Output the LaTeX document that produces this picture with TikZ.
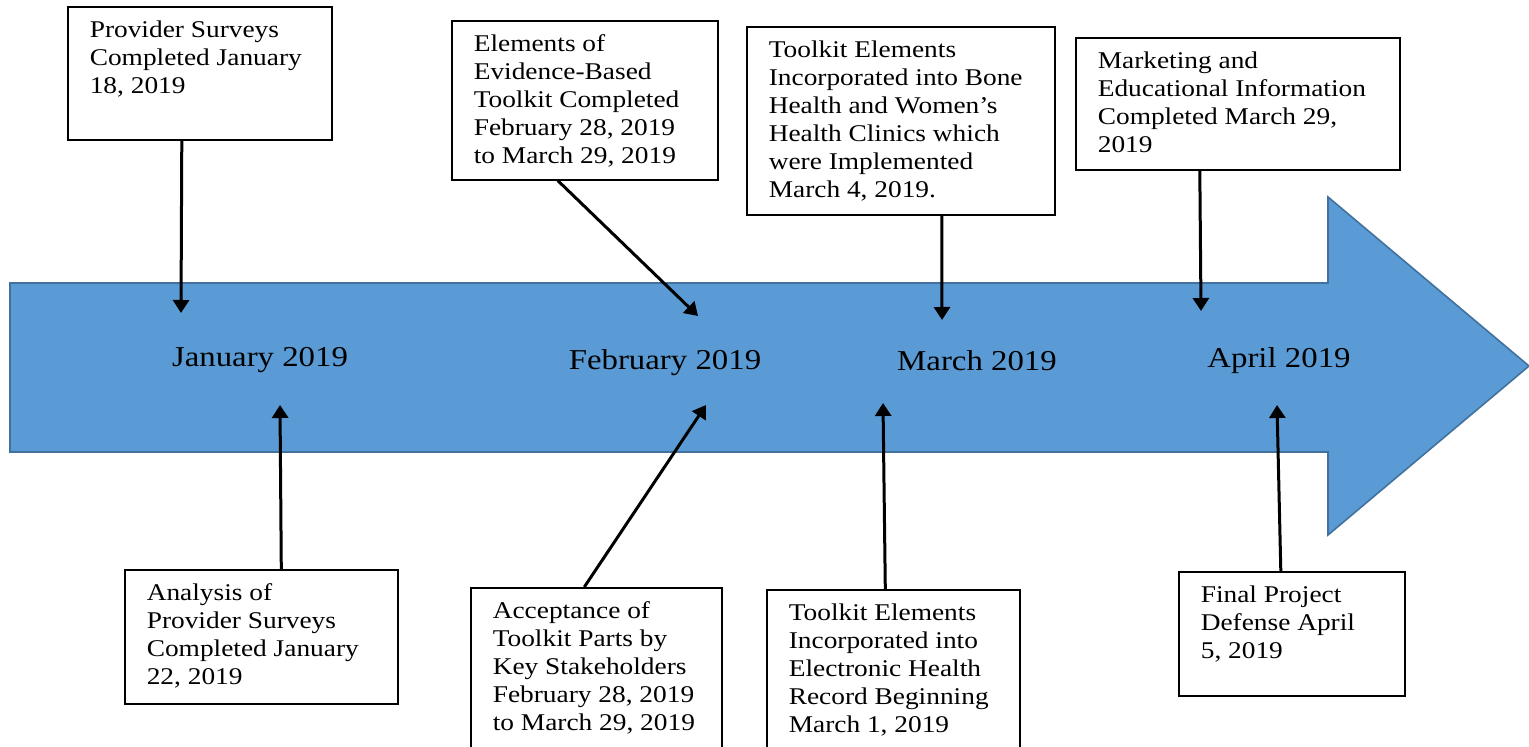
\documentclass[tikz,border=0pt]{standalone}
\usepackage{fontspec}
\setmainfont[FakeStretch=1.14]{Liberation Serif}
\usepackage{xcolor}
\usepackage{tikz}
\usetikzlibrary{arrows.meta}

\definecolor{barfill}{RGB}{91,155,213}
\definecolor{barline}{RGB}{65,113,156}

\tikzset{
  evbox/.style 2 args={draw,line width=0.8pt,anchor=north west,inner xsep=1pt,inner ysep=7pt,
    execute at begin node={\begin{minipage}[t][#2][t]{#1}\raggedright\leftskip=10pt\fontsize{12}{14}\selectfont},
    execute at end node={\end{minipage}}},
  month/.style={anchor=base,font=\fontsize{14.4}{17}\selectfont},
  tl/.style={-{Triangle[length=6.5pt,width=8pt]},line width=1.5pt},
}

\begin{document}
\begin{tikzpicture}[x=0.5pt,y=-0.5pt]
\useasboundingbox (0,0) rectangle (1529,747);

% Timeline bar
\filldraw[fill=barfill,draw=barline,line width=0.8pt]
  (10,283) -- (1328,283) -- (1328,197) -- (1529,366) -- (1328,535) -- (1328,452) -- (10,452) -- cycle;

% Months
\node[month] (jan) at (260,367) {January 2019};
\node[month] (feb) at (665,370) {February 2019};
\node[month] (mar) at (977,371) {March 2019};
\node[month] (apr) at (1279,368) {April 2019};

% Arrow ends on the bar
\coordinate (t1) at (181,313);
\coordinate (t2) at (698,316);
\coordinate (t3) at (942,320);
\coordinate (t4) at (1201,311);
\coordinate (b1) at (280,405);
\coordinate (b2) at (706,405);
\coordinate (b3) at (883,403);
\coordinate (b4) at (1277,405);

% Boxes above
\node[evbox={130pt}{52.5pt}] (prov) at (67,6) {Provider Surveys\\Completed January\\18, 2019};
\node[evbox={131pt}{65.5pt}] (elem) at (451,20) {Elements of\\Evidence-Based\\Toolkit Completed\\February 28, 2019\\to March 29, 2019};
\node[evbox={152pt}{80pt}] (bone) at (746,26) {Toolkit Elements\\Incorporated into Bone\\Health and Women's\\Health Clinics which\\were Implemented\\March 4, 2019.};
\node[evbox={160pt}{52pt}] (mark) at (1075,37) {Marketing and\\Educational Information\\Completed March 29,\\2019};

% Boxes below
\node[evbox={134.5pt}{53pt}] (anal) at (124,569) {Analysis of\\Provider Surveys\\Completed January\\22, 2019};
\node[evbox={123.5pt}{77.5pt}] (acc) at (470,587) {Acceptance of\\Toolkit Parts by\\Key Stakeholders\\February 28, 2019\\to March 29, 2019};
\node[evbox={124.5pt}{76.5pt}] (ehr) at (766,589) {Toolkit Elements\\Incorporated into\\Electronic Health\\Record Beginning\\March 1, 2019};
\node[evbox={111pt}{48pt}] (fin) at (1178,571) {Final Project\\Defense April\\5, 2019};

% Connectors
\draw[tl] ([xshift=-9pt]prov.south) -- (t1);
\draw[tl] ([xshift=-13.5pt]elem.south) -- (t2);
\draw[tl] ([xshift=20.5pt]bone.south) -- (t3);
\draw[tl] ([xshift=-19pt]mark.south) -- (t4);
\draw[tl] ([xshift=10pt]anal.north) -- (b1);
\draw[tl] ([xshift=-6pt]acc.north) -- (b2);
\draw[tl] ([xshift=-4pt]ehr.north) -- (b3);
\draw[tl] ([xshift=-5.5pt]fin.north) -- (b4);
\end{tikzpicture}
\end{document}
